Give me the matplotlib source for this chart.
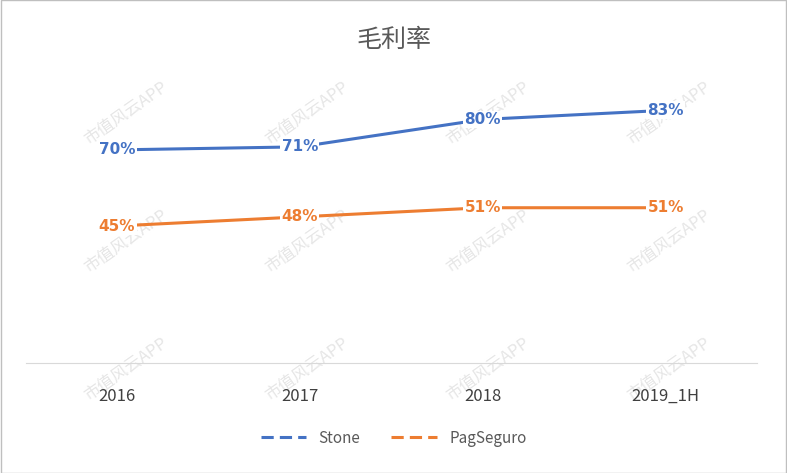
import matplotlib.pyplot as plt
from matplotlib.lines import Line2D
from matplotlib.patches import Rectangle

plt.rcParams['font.family'] = ['Noto Sans CJK SC', 'DejaVu Sans']

# data
years = ["2016", "2017", "2018", "2019_1H"]
stone = [0.70, 0.71, 0.80, 0.83]
pagseguro = [0.45, 0.48, 0.51, 0.51]

blue = "#4472C4"
orange = "#ED7D31"

fig = plt.figure(figsize=(7.87, 4.73), dpi=100)
ax = fig.add_axes([25.5 / 787, 1 - 363 / 473, 731.5 / 787, 274 / 473])
ax.patch.set_alpha(0)

x = range(len(years))
ax.plot(x, stone, color=blue, lw=2.2)
ax.plot(x, pagseguro, color=orange, lw=2.2)

for xi, v in zip(x, stone):
    ax.text(xi, v, f"{v:.0%}", color=blue, fontsize=11, fontweight="bold",
            ha="center", va="center", family=["DejaVu Sans"],
            bbox=dict(facecolor="white", edgecolor="none", pad=1))
for xi, v in zip(x, pagseguro):
    ax.text(xi, v, f"{v:.0%}", color=orange, fontsize=11, fontweight="bold",
            ha="center", va="center", family=["DejaVu Sans"],
            bbox=dict(facecolor="white", edgecolor="none", pad=1))

ax.set_xlim(-0.5, 3.5)
ax.set_ylim(0, 0.9)
ax.set_yticks([])
ax.set_xticks(list(x))
ax.set_xticklabels(years, fontsize=12, color="#404040")
ax.tick_params(axis="x", length=0, pad=18)
for s in ["top", "left", "right"]:
    ax.spines[s].set_visible(False)
ax.spines["bottom"].set_color("#D9D9D9")

fig.text(0.5, 1 - 40 / 473, "毛利率", ha="center", va="center", fontsize=18, color="#595959")

handles = [Line2D([], [], color=blue, lw=2.2, ls=(0, (4, 2))),
           Line2D([], [], color=orange, lw=2.2, ls=(0, (4, 2)))]
fig.legend(handles, ["Stone", "PagSeguro"], loc="center", bbox_to_anchor=(0.5, 1 - 438 / 473),
           ncol=2, frameon=False, fontsize=11, handlelength=3, labelcolor="#595959")

# faint watermark, kept inside the frame
for i in range(4):
    for j in range(3):
        fig.text(0.16 + i * 0.23, 0.22 + j * 0.27, "市值风云APP", rotation=35,
                 fontsize=12, color="#E6E6E6", ha="center", va="center", zorder=-1)

fig.patches.append(Rectangle((0.001, 0.001), 0.998, 0.998, transform=fig.transFigure,
                             fill=False, edgecolor="#BFBFBF", lw=1))

fig.savefig("out.png", dpi=100)
